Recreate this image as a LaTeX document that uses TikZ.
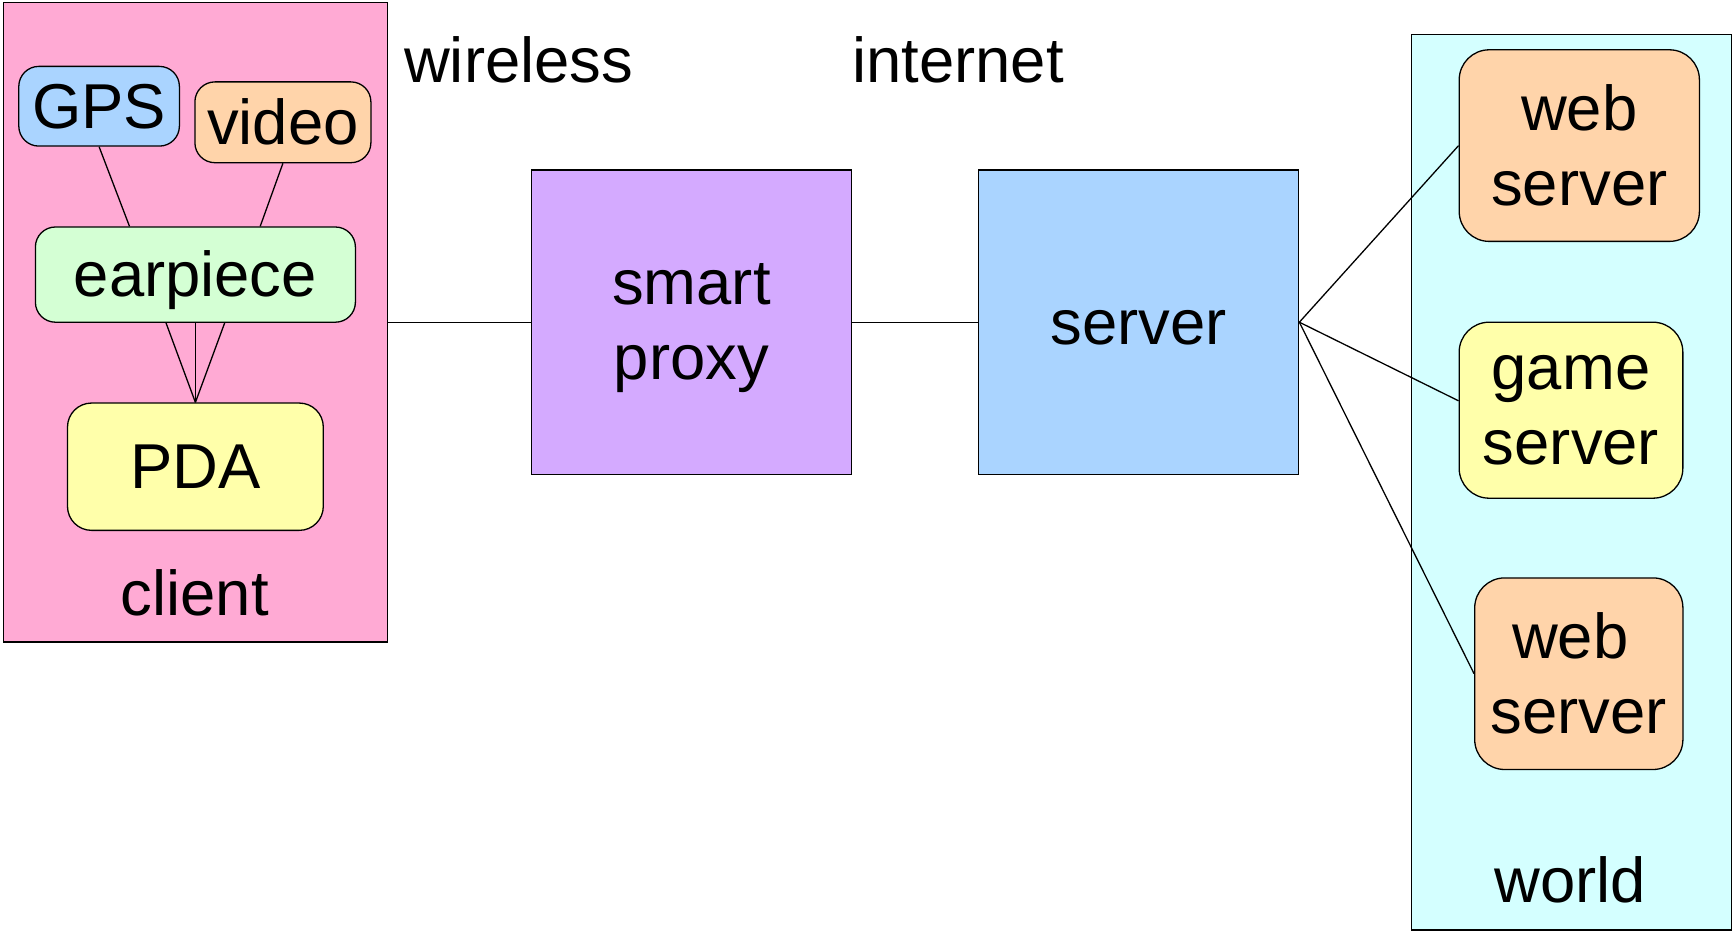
\documentclass[tikz,border=0pt]{standalone}
\usepackage{fontspec}
\setmainfont{Liberation Sans}
\begin{document}
\begin{tikzpicture}[x=1pt,y=-1pt,
  every node/.style={font=\fontsize{63.4}{75}\selectfont, inner sep=0pt, align=center},
  box/.style={draw=black, line width=1.3pt, rectangle},
  rbox/.style={box, rounded corners=20pt},
  txt/.style={label={center:#1}},
  lowtxt/.style={label={[yshift=-6pt]center:#1}},
  link/.style={draw=black, line width=1.3pt}]
\definecolor{cpink}{HTML}{FFAAD4}
\definecolor{cblue}{HTML}{AAD4FF}
\definecolor{corange}{HTML}{FFD4AA}
\definecolor{cgreen}{HTML}{D4FFD4}
\definecolor{cyellow}{HTML}{FFFFAA}
\definecolor{cpurple}{HTML}{D4AAFF}
\definecolor{ccyan}{HTML}{D4FFFF}
\useasboundingbox (0,0) rectangle (1736,933);
% containers
\node[box, fill=cpink, minimum width=384.2pt, minimum height=639.8pt] (client) at (195.4,322.2) {};
\node[box, fill=ccyan, minimum width=319.9pt, minimum height=895.7pt] (world) at (1571.5,482.1) {};
\node[anchor=base] (clientlbl) at (194.9,615.6) {client};
\node[anchor=base] (worldlbl) at (1570,902) {world};
% client parts
\node[rbox, fill=cblue, minimum width=160.6pt, minimum height=79.7pt, txt={GPS}] (gps) at (99.1,106.25) {};
\node[rbox, fill=corange, minimum width=176pt, minimum height=80.8pt, txt={video}] (video) at (282.9,122.3) {};
\node[rbox, fill=cgreen, minimum width=320pt, minimum height=95.2pt, lowtxt={earpiece}] (ear) at (195.4,274.6) {};
\node[rbox, rounded corners=24pt, fill=cyellow, minimum width=255.8pt, minimum height=127.3pt, txt={PDA}] (pda) at (195.4,466.7) {};
% middle
\node[box, fill=cpurple, minimum width=320pt, minimum height=304.5pt, lowtxt={smart\\proxy}] (proxy) at (691.4,322.2) {};
\node[box, fill=cblue, minimum width=320pt, minimum height=304.5pt, lowtxt={server}] (server) at (1138.7,322.2) {};
\node[anchor=base] (wireless) at (518.7,83) {wireless};
\node[anchor=base] (internet) at (958,83) {internet};
% world parts
\node[rbox, rounded corners=30pt, fill=corange, minimum width=240.2pt, minimum height=191.6pt, txt={web\\server}] (web1) at (1579.3,145.6) {};
\node[rbox, rounded corners=30pt, fill=cyellow, minimum width=223.7pt, minimum height=176pt, txt={game\\server}] (game) at (1571,410.2) {};
\node[rbox, rounded corners=30pt, fill=corange, minimum width=208.2pt, minimum height=191.6pt, txt={web\hspace*{17pt}\\server}] (web2) at (1578.8,673.7) {};
% connectors
\coordinate (eargps) at ([xshift=-65.9pt]ear.north);
\coordinate (earvid) at ([xshift=64.8pt]ear.north);
\coordinate (earb1) at ([xshift=-29.4pt]ear.south);
\coordinate (earb3) at ([xshift=29.3pt]ear.south);
\coordinate (gamein) at ([yshift=9.4pt]game.west);
\draw[link] (gps.south) -- (eargps);
\draw[link] (video.south) -- (earvid);
\draw[link] (earb1) -- (pda.north);
\draw[link] (ear.south) -- (pda.north);
\draw[link] (earb3) -- (pda.north);
\draw[link] (client.east) -- (proxy.west);
\draw[link] (proxy.east) -- (server.west);
\draw[link] (server.east) -- (web1.west);
\draw[link] (server.east) -- (gamein);
\draw[link] (server.east) -- (web2.west);
\end{tikzpicture}
\end{document}
